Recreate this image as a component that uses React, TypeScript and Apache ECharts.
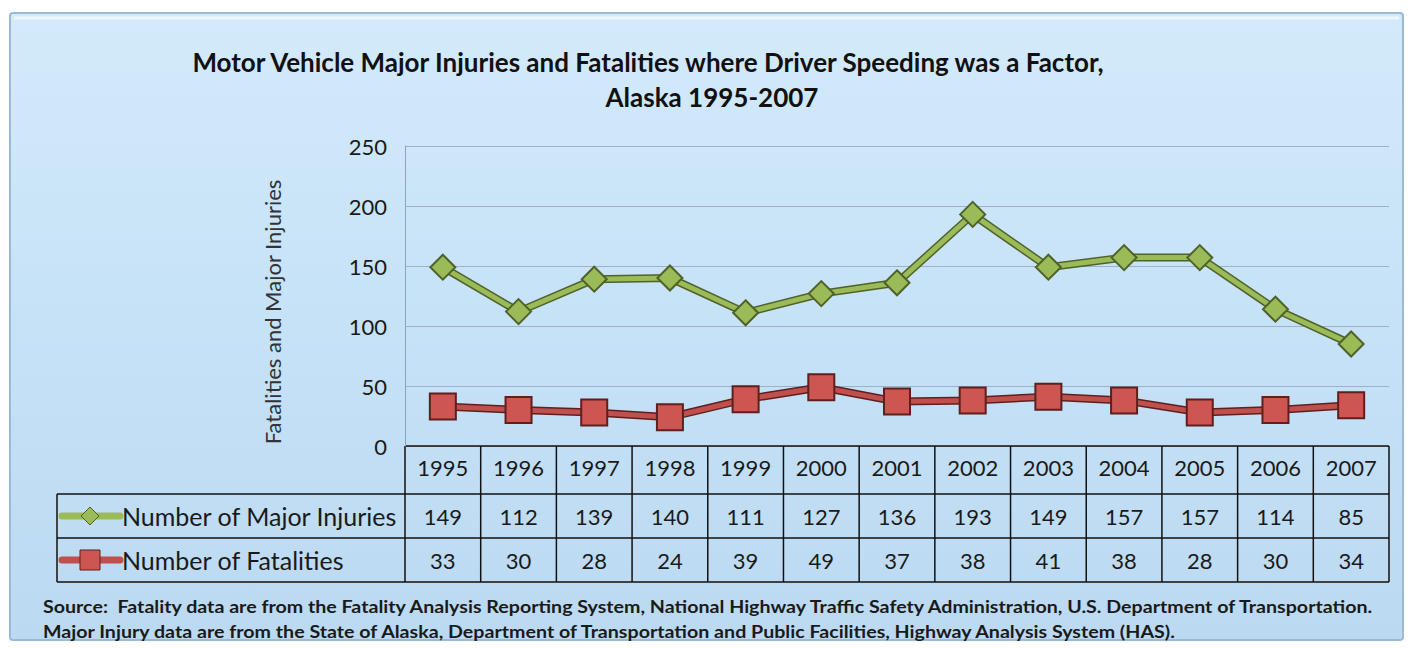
import React, { useEffect, useRef } from "react";
import * as echarts from "echarts";

const years = ["1995", "1996", "1997", "1998", "1999", "2000", "2001", "2002", "2003", "2004", "2005", "2006", "2007"];
const injuries = [149, 112, 139, 140, 111, 127, 136, 193, 149, 157, 157, 114, 85];
const fatalities = [33, 30, 28, 24, 39, 49, 37, 38, 41, 38, 28, 30, 34];
const seriesNames = ["Number of Major Injuries", "Number of Fatalities"];
const titleLines = [
  "Motor Vehicle Major Injuries and Fatalities where Driver Speeding was a Factor,",
  "Alaska 1995-2007",
];
const yAxisTitle = "Fatalities and Major Injuries";
const sourceLines = [
  "Source:  Fatality data are from the Fatality Analysis Reporting System, National Highway Traffic Safety Administration, U.S. Department of Transportation.",
  "Major Injury data are from the State of Alaska, Department of Transportation and Public Facilities, Highway Analysis System (HAS).",
];

const FONT = "Lato, 'Open Sans', sans-serif";
const GREEN = "#9bbb59";
const GREEN_DARK = "#4f6228";
const RED = "#c0504d";
const RED_DARK = "#5e1f1d";

export default function App() {
  const ref = useRef<HTMLDivElement>(null);
  useEffect(() => {
    document.body.style.margin = "0";
    const chart = echarts.init(ref.current!, null, { renderer: "svg" });
    const option: any = {
      animation: false,
      grid: { left: 405, right: 24, top: 146, bottom: 202, containLabel: false },
      xAxis: {
        type: "category",
        data: years,
        boundaryGap: true,
        axisLine: { show: false },
        axisTick: { show: false },
        axisLabel: { show: true, fontFamily: FONT, fontSize: 22, color: "#1a1a1a", margin: 21, verticalAlign: "middle" },
        splitLine: { show: false },
      },
      yAxis: {
        type: "value",
        min: 0,
        max: 250,
        interval: 50,
        axisLine: { show: true, lineStyle: { color: "#8ea3b5", width: 1 } },
        axisTick: { show: false },
        axisLabel: { fontFamily: FONT, fontSize: 22, color: "#1a1a1a", margin: 18 },
        splitLine: { show: true, lineStyle: { color: "#9fb1c2", width: 1 } },
      },
      series: [
        {
          type: "line",
          data: injuries,
          symbol: "none",
          silent: true,
          lineStyle: { color: GREEN_DARK, width: 8 },
          z: 2,
        },
        {
          name: seriesNames[0],
          type: "line",
          data: injuries,
          symbol: "diamond",
          symbolSize: 25,
          lineStyle: { color: GREEN, width: 5 },
          itemStyle: { color: GREEN, borderColor: GREEN_DARK, borderWidth: 2 },
          z: 3,
        },
        {
          type: "line",
          data: fatalities,
          symbol: "none",
          silent: true,
          lineStyle: { color: RED_DARK, width: 8 },
          z: 2,
        },
        {
          name: seriesNames[1],
          type: "line",
          data: fatalities,
          symbol: "rect",
          symbolSize: 26,
          lineStyle: { color: RED, width: 5 },
          itemStyle: { color: "#cd5652", borderColor: RED_DARK, borderWidth: 2 },
          z: 3,
        },
      ],
    };
    chart.setOption(option);

    const c0 = chart.convertToPixel({ xAxisIndex: 0 }, 0) as number;
    const c1 = chart.convertToPixel({ xAxisIndex: 0 }, 1) as number;
    const bw = c1 - c0;
    const leftEdge = c0 - bw / 2;
    const rightEdge = leftEdge + bw * years.length;
    const yZero = chart.convertToPixel({ yAxisIndex: 0 }, 0) as number;
    const rowTop = 494;
    const rowMid = 538;
    const rowBot = 582;
    const legendLeft = 57;
    const lineStyle = { stroke: "#111", lineWidth: 1.5 };

    const g: any[] = [];
    g.push({
      type: "rect",
      z: -10,
      shape: { x: 10, y: 13, width: 1393, height: 627, r: 3 },
      style: {
        fill: new echarts.graphic.LinearGradient(0, 0, 0, 1, [
          { offset: 0, color: "#d3eafa" },
          { offset: 0.5, color: "#c6e2f7" },
          { offset: 1, color: "#bbd9f1" },
        ]),
        stroke: "#9bb9d4",
        lineWidth: 2,
      },
    });
    g.push({ type: "line", z: -9, shape: { x1: 14, y1: 18, x2: 1399, y2: 18 }, style: { stroke: "#eef7fe", lineWidth: 3 } });

    // title
    g.push({ type: "text", x: 648, y: 62, style: { text: titleLines[0], fontFamily: FONT, fontWeight: "bold", fontSize: 26, fill: "#111", align: "center", verticalAlign: "middle" } });
    g.push({ type: "text", x: 712, y: 97, style: { text: titleLines[1], fontFamily: FONT, fontWeight: "bold", fontSize: 26, fill: "#111", align: "center", verticalAlign: "middle" } });

    // y axis title
    g.push({ type: "text", x: 272, y: 312, rotation: Math.PI / 2, style: { text: yAxisTitle, fontFamily: FONT, fontSize: 22, fill: "#333", align: "center", verticalAlign: "middle" } });

    // table horizontal lines
    g.push({ type: "line", shape: { x1: leftEdge, y1: yZero, x2: rightEdge, y2: yZero }, style: lineStyle });
    [rowTop, rowMid, rowBot].forEach((y) => {
      g.push({ type: "line", shape: { x1: legendLeft, y1: y, x2: rightEdge, y2: y }, style: lineStyle });
    });
    // vertical lines
    g.push({ type: "line", shape: { x1: legendLeft, y1: rowTop, x2: legendLeft, y2: rowBot }, style: lineStyle });
    for (let i = 0; i <= years.length; i++) {
      const x = leftEdge + bw * i;
      g.push({ type: "line", shape: { x1: x, y1: yZero, x2: x, y2: rowBot }, style: lineStyle });
    }
    // values
    const rows = [injuries, fatalities];
    const rowCenters = [(rowTop + rowMid) / 2, (rowMid + rowBot) / 2];
    rows.forEach((vals, r) => {
      vals.forEach((v, i) => {
        const x = chart.convertToPixel({ xAxisIndex: 0 }, i) as number;
        g.push({ type: "text", x, y: rowCenters[r], style: { text: String(v), fontFamily: FONT, fontSize: 22, fill: "#1a1a1a", align: "center", verticalAlign: "middle" } });
      });
    });
    // legend keys
    rowCenters.forEach((y, r) => {
      const col = r === 0 ? GREEN : RED;
      const dark = r === 0 ? GREEN_DARK : RED_DARK;
      g.push({ type: "line", shape: { x1: 62, y1: y, x2: 120, y2: y }, style: { stroke: col, lineWidth: 7, lineCap: "round" } });
      if (r === 0) {
        g.push({ type: "polygon", shape: { points: [[90, y - 9], [99, y], [90, y + 9], [81, y]] }, style: { fill: GREEN, stroke: dark, lineWidth: 1 } });
      } else {
        g.push({ type: "rect", shape: { x: 80, y: y - 10, width: 20, height: 20 }, style: { fill: "#cd5652", stroke: dark, lineWidth: 1 } });
      }
      g.push({ type: "text", x: 122, y, style: { text: seriesNames[r], fontFamily: FONT, fontSize: 25, fill: "#1a1a1a", align: "left", verticalAlign: "middle" } });
    });
    // source
    sourceLines.forEach((t, i) => {
      g.push({ type: "text", x: 43, y: 607 + i * 25, scaleX: 1.155, style: { text: t, fontFamily: FONT, fontWeight: "bold", fontSize: 17, fill: "#1a1a1a", align: "left", verticalAlign: "middle" } });
    });

    chart.setOption({ graphic: g });
    return () => chart.dispose();
  }, []);
  return <div ref={ref} style={{ width: 1413, height: 648 }} />;
}
